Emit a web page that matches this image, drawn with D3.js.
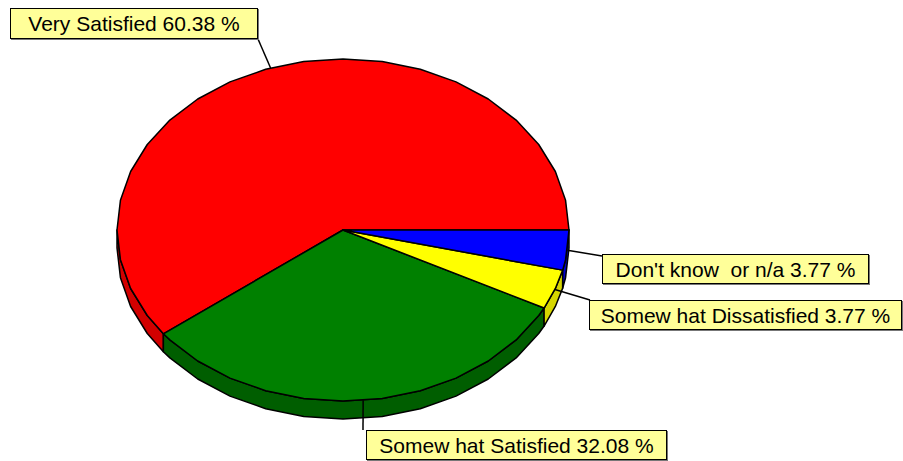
<!DOCTYPE html>
<html>
<head>
<meta charset="utf-8">
<script src="https://cdn.jsdelivr.net/npm/d3@7"></script>
<style>
  html, body { margin: 0; padding: 0; background: #fff; }
  svg { display: block; }
  text { font-family: "Liberation Sans", Arial, sans-serif; }
</style>
</head>
<body>
<script>
// Satisfaction survey shares (percent)
const categories = ["Very Satisfied", "Somew hat Satisfied", "Somew hat Dissatisfied", "Don't know  or n/a"];
const values = [60.38, 32.08, 3.77, 3.77];
const topColors = ["#ff0000", "#008000", "#ffff00", "#0000ff"];
const sideColors = ["#d20000", "#005e00", "#d6d600", "#0000c8"];

const W = 903, H = 461;
const cx = 343, cy = 230, rx = 226, ry = 171, depth = 18;
const step = Math.PI / 18; // facet size of the rim

const svg = d3.select("body").append("svg").attr("width", W).attr("height", H);

// Start at 3 o'clock and run counter-clockwise
const pie = d3.pie().sort(null).value(d => d.v)
  .startAngle(Math.PI / 2).endAngle(Math.PI / 2 - 2 * Math.PI);
const arcs = pie(values.map((v, i) => ({ v, i })));

const pt = (a, dy = 0) => [cx + rx * Math.sin(a), cy - ry * Math.cos(a) + dy];

// angles from hi down to lo, snapped to the facet grid in between
function sample(hi, lo) {
  const out = [hi];
  let k = Math.floor(hi / step - 1e-9);
  while (k * step > lo + 1e-9) { out.push(k * step); k--; }
  out.push(lo);
  return out;
}

const line = d3.line();

// Rim (side walls) on the front half of the ellipse
const frontHi = -Math.PI / 2, frontLo = -3 * Math.PI / 2;
arcs.forEach(d => {
  const hi = Math.min(d.startAngle, frontHi);
  const lo = Math.max(d.endAngle, frontLo);
  if (hi <= lo) return;
  const angs = sample(hi, lo);
  const pts = angs.map(a => pt(a)).concat(angs.slice().reverse().map(a => pt(a, depth)));
  svg.append("path")
    .attr("d", line(pts) + "Z")
    .attr("fill", sideColors[d.data.i])
    .attr("stroke", "#000").attr("stroke-width", 1.5).attr("stroke-linejoin", "round");
});

// Top faces
arcs.forEach(d => {
  const angs = sample(d.startAngle, d.endAngle);
  const pts = [[cx, cy]].concat(angs.map(a => pt(a)));
  svg.append("path")
    .attr("d", line(pts) + "Z")
    .attr("fill", topColors[d.data.i])
    .attr("stroke", "#000").attr("stroke-width", 1.5).attr("stroke-linejoin", "round");
});

// Label boxes with leader lines to each slice's rim midpoint
const boxes = [
  { x: 10, y: 8, w: 248, h: 31, lx: 258, ly: 39 },
  { x: 366, y: 430, w: 301, h: 30, lx: 363, ly: 430 },
  { x: 589, y: 300, w: 313, h: 30, lx: 590, ly: 300 },
  { x: 602, y: 254, w: 267, h: 30, lx: 602, ly: 256 }
];

arcs.forEach(d => {
  const i = d.data.i, b = boxes[i];
  const mid = (d.startAngle + d.endAngle) / 2;
  const p = pt(mid);
  svg.append("line")
    .attr("x1", p[0]).attr("y1", p[1]).attr("x2", b.lx).attr("y2", b.ly)
    .attr("stroke", "#000").attr("stroke-width", 1.5);
});

arcs.forEach(d => {
  const i = d.data.i, b = boxes[i];
  const g = svg.append("g");
  g.append("rect")
    .attr("x", b.x + 1).attr("y", b.y + 1).attr("width", b.w).attr("height", b.h)
    .attr("fill", "#777");
  g.append("rect")
    .attr("x", b.x + 0.5).attr("y", b.y + 0.5).attr("width", b.w - 1).attr("height", b.h - 1)
    .attr("fill", "#ffff99").attr("stroke", "#000").attr("stroke-width", 1);
  g.append("text")
    .attr("x", b.x + b.w / 2).attr("y", b.y + b.h / 2 + 7.5)
    .attr("text-anchor", "middle")
    .attr("font-size", 21)
    .attr("fill", "#000")
    .attr("xml:space", "preserve")
    .style("white-space", "pre")
    .text(categories[i] + " " + values[i].toFixed(2) + " %");
});
</script>
</body>
</html>
